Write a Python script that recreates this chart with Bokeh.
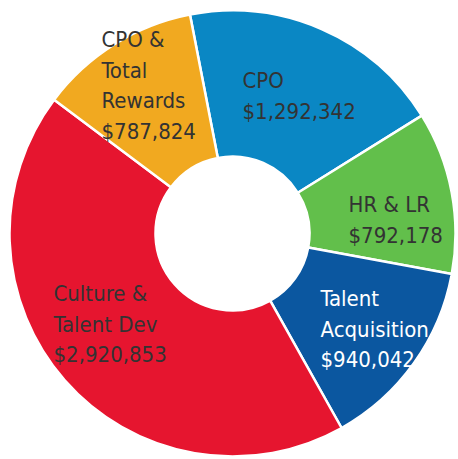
import math
from bokeh.plotting import figure
from bokeh.models import Range1d, ColumnDataSource
from bokeh.core.properties import value
from bokeh.embed import file_html
from bokeh.resources import INLINE

# ---- data ----
categories = ["CPO", "HR & LR", "Talent Acquisition", "Culture & Talent Dev", "CPO & Total Rewards"]
amounts = [1292342, 792178, 940042, 2920853, 787824]
colors = ["#0a87c4", "#62bf4b", "#0b57a0", "#e6152f", "#f1a920"]
label_names = [["CPO"], ["HR & LR"], ["Talent", "Acquisition"], ["Culture &", "Talent Dev"], ["CPO &", "Total", "Rewards"]]
label_colors = ["#333333", "#333333", "#ffffff", "#333333", "#333333"]

# ---- layout (page pixel coordinates; y measured downward) ----
W, H = 456, 457
cx_px, cy_px = 232, 233
r_out, r_in = 223, 77
start_deg = 101.0
label_anchor_px = [(242, 80), (348, 204), (320, 298), (53, 293), (101, 39)]
line_gap = 30.5

def ydata(py):
    return 459 - py

total = float(sum(amounts))
starts, ends = [], []
a = math.radians(start_deg)
for v in amounts:
    starts.append(a)
    a = a - 2 * math.pi * v / total
    ends.append(a)

p = figure(width=W, height=H, output_backend="svg", toolbar_location=None,
           x_range=Range1d(0, W), y_range=Range1d(ydata(H), ydata(0)),
           min_border=0, outline_line_color=None)
p.axis.visible = False
p.grid.visible = False
p.background_fill_color = "white"
p.border_fill_color = "white"

src = ColumnDataSource(dict(start=starts, end=ends, color=colors, cat=categories))
p.annular_wedge(x=cx_px, y=ydata(cy_px), inner_radius=r_in, outer_radius=r_out,
                start_angle="start", end_angle="end", direction="clock",
                fill_color="color", line_color="white", line_width=2.5, source=src)

tx, ty, tt, tc = [], [], [], []
for i, cat in enumerate(categories):
    lines = label_names[i] + ["${:,}".format(amounts[i])]
    ax, ay = label_anchor_px[i]
    for j, ln in enumerate(lines):
        tx.append(ax)
        ty.append(ydata(ay + j * line_gap))
        tt.append(ln)
        tc.append(label_colors[i])

tsrc = ColumnDataSource(dict(x=tx, y=ty, text=tt, color=tc))
p.text(x="x", y="y", text="text", text_color="color", source=tsrc,
       text_font=value("DejaVu Sans Condensed"), text_font_size="22px",
       text_align="left", text_baseline="alphabetic")

open("out.html", "w").write(file_html(p, INLINE))
